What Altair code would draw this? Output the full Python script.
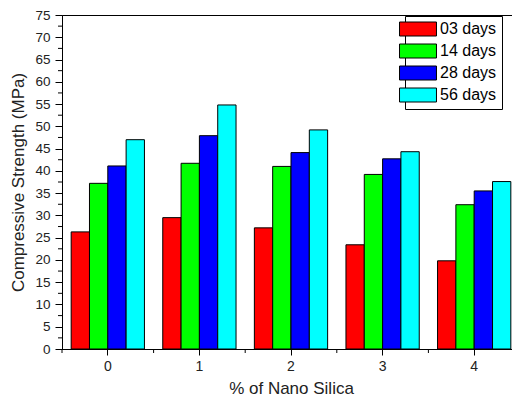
import altair as alt
import pandas as pd

categories = ["0", "1", "2", "3", "4"]
series = ["03 days", "14 days", "28 days", "56 days"]
colors = ["#FF0000", "#00FF00", "#0000FF", "#00FFFF"]
v03 = [26.3, 29.5, 27.2, 23.4, 19.8]
v14 = [37.2, 41.7, 41.0, 39.2, 32.4]
v28 = [41.1, 47.9, 44.1, 42.7, 35.5]
v56 = [47.0, 54.8, 49.2, 44.3, 37.6]
y_ticks = list(range(0, 80, 5))
y_minor = [2.5 + 5 * i for i in range(15)]
x_minor = [-0.5, 0.5, 1.5, 2.5, 3.5, 4.5]

rows = []
for s, vals in zip(series, [v03, v14, v28, v56]):
    for c, v in zip(categories, vals):
        rows.append({"cat": c, "series": s, "value": v})
df = pd.DataFrame(rows)

FONT = "Liberation Sans"
W, H = 458, 334

bars = alt.Chart(df).mark_bar(stroke="black", strokeWidth=1).encode(
    x=alt.X("cat:N", sort=categories,
            scale=alt.Scale(paddingInner=0.2, paddingOuter=0.1),
            axis=alt.Axis(title="% of Nano Silica", labelAngle=0, tickSize=6,
                          labelPadding=4, labelFontSize=14, titleFontSize=17,
                          titleFontWeight="normal", titleY=44,
                          titleBaseline="alphabetic")),
    xOffset=alt.XOffset("series:N", sort=series, scale=alt.Scale(paddingInner=0, paddingOuter=0)),
    y=alt.Y("value:Q", scale=alt.Scale(domain=[0, 75], nice=False),
            axis=alt.Axis(title="Compressive Strength (MPa)", values=y_ticks,
                          tickSize=7, labelPadding=5, labelFontSize=13.5,
                          labelOverlap=False, labelFlush=False,
                          titleFontSize=17, titleFontWeight="normal",
                          titleX=-44, titleBaseline="middle")),
    color=alt.Color("series:N", sort=series,
                    scale=alt.Scale(domain=series, range=colors),
                    legend=alt.Legend(
                        title=None, orient="none", legendX=343, legendY=1,
                        padding=5, strokeColor="black", fillColor="white",
                        symbolType="M-2.64,-1L2.64,-1L2.64,1L-2.64,1Z",
                        symbolSize=196, symbolStrokeColor="black",
                        symbolStrokeWidth=1, labelFont=FONT, labelFontSize=16,
                        labelOffset=14, rowPadding=4,
                        labelColor="black")),
)

ymin_df = pd.DataFrame({"v": y_minor})
y_minor_ticks = alt.Chart(ymin_df).mark_rule(color="black", strokeWidth=1).encode(
    y=alt.Y("v:Q", scale=alt.Scale(domain=[0, 75], nice=False), axis=None),
    x=alt.value(0),
    x2=alt.value(-4),
)

xmin_df = pd.DataFrame({"b": x_minor})
x_minor_ticks = alt.Chart(xmin_df).mark_rule(color="black", strokeWidth=1).encode(
    x=alt.X("b:Q", scale=alt.Scale(domain=[-0.5, 4.5], nice=False, zero=False), axis=None),
    y=alt.value(H),
    y2=alt.value(H + 4),
)

chart = alt.layer(bars, y_minor_ticks, x_minor_ticks).resolve_scale(
    x="independent", y="independent"
).properties(
    width=W, height=H,
    autosize=alt.AutoSizeParams(type="none"),
    padding={"left": 54, "top": 7, "right": -8, "bottom": 48},
).configure_view(
    stroke="black", strokeWidth=1
).configure_axis(
    grid=False, domainColor="black", tickColor="black", labelColor="#222222",
    titleColor="#222222", labelFont=FONT, titleFont=FONT, domainWidth=1,
)

chart.save("out.html", embed_options={"renderer": "svg", "actions": False})
